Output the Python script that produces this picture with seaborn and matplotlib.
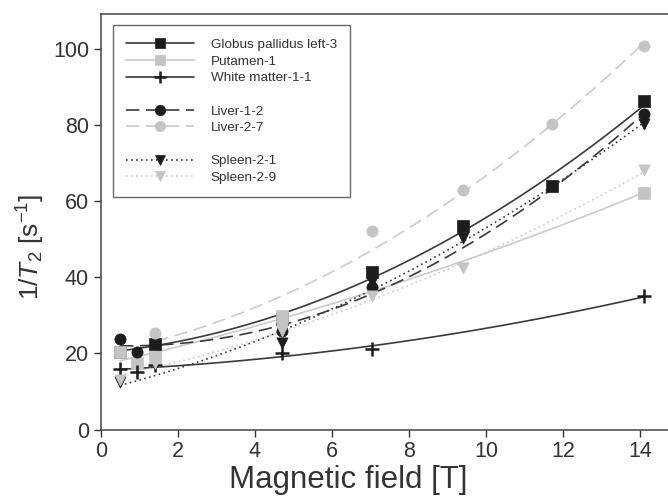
import numpy as np
import pandas as pd
import matplotlib
matplotlib.use('Agg')
import matplotlib.pyplot as plt
from matplotlib.lines import Line2D
import seaborn as sns

# field strengths [T] and 1/T2 [s^-1]
gp_field = [0.5, 1.41, 4.7, 7.05, 9.4, 11.7, 14.1]
gp_rate = [20.4, 22.6, 29.0, 41.5, 53.5, 64.0, 86.5]

put_field = [0.5, 0.95, 1.41, 4.7, 14.1]
put_rate = [20.4, 17.6, 19.0, 29.8, 62.3]

wm_field = [0.5, 0.95, 1.41, 4.7, 7.05, 14.1]
wm_rate = [16.0, 15.2, 16.9, 20.0, 21.3, 35.0]

liv1_field = [0.5, 0.95, 4.7, 7.05, 14.1]
liv1_rate = [23.9, 20.4, 25.8, 37.4, 83.0]

liv2_field = [1.41, 4.7, 7.05, 9.4, 11.7, 14.1]
liv2_rate = [25.5, 28.0, 52.2, 63.0, 80.3, 101.0]

spl1_field = [0.5, 4.7, 7.05, 9.4, 14.1]
spl1_rate = [12.5, 22.8, 38.8, 50.3, 80.3]

spl2_field = [0.5, 1.41, 4.7, 7.05, 9.4, 14.1]
spl2_rate = [13.0, 17.5, 26.0, 35.0, 42.4, 68.2]

DARK = '#1c1c1c'
DARK_LINE = '#3a3a3a'
LIGHT = '#c4c4c4'
LIGHT_LINE = '#cbcbcb'

series = [
    ('Globus pallidus left-3', gp_field, gp_rate, 's', DARK, DARK_LINE, '-'),
    ('Putamen-1', put_field, put_rate, 's', LIGHT, LIGHT_LINE, '-'),
    ('White matter-1-1', wm_field, wm_rate, '+', DARK, DARK_LINE, '-'),
    ('Liver-1-2', liv1_field, liv1_rate, 'o', DARK, DARK_LINE, (0, (8, 4))),
    ('Liver-2-7', liv2_field, liv2_rate, 'o', LIGHT, LIGHT_LINE, (0, (8, 4))),
    ('Spleen-2-1', spl1_field, spl1_rate, 'v', DARK, DARK_LINE, (0, (1, 2))),
    ('Spleen-2-9', spl2_field, spl2_rate, 'v', LIGHT, LIGHT_LINE, (0, (1, 2))),
]

sns.set_style('ticks')
plt.rcParams['font.family'] = ['Liberation Sans', 'DejaVu Sans']
plt.rcParams['mathtext.fontset'] = 'custom'
plt.rcParams['mathtext.rm'] = 'Liberation Sans'
plt.rcParams['mathtext.it'] = 'Liberation Sans:italic'

fig = plt.figure(figsize=(6.68, 5.0), dpi=100)
ax = fig.add_axes([0.151, 0.141, 0.849, 0.831])

# fitted curves first, markers on top
for name, xs, ys, mk, mc, lc, ls in series:
    df = pd.DataFrame({'field': xs, 'rate': ys})
    sns.regplot(data=df, x='field', y='rate', order=2, ci=None, scatter=False,
                truncate=True, ax=ax,
                line_kws={'color': lc, 'lw': 1.2, 'linestyle': ls})

for name, xs, ys, mk, mc, lc, ls in series:
    df = pd.DataFrame({'field': xs, 'rate': ys})
    if mk == '+':
        sns.scatterplot(data=df, x='field', y='rate', marker='+', s=90,
                        color=mc, linewidth=1.8, ax=ax, zorder=4)
    else:
        sns.scatterplot(data=df, x='field', y='rate', marker=mk, s=65,
                        color=mc, edgecolor=mc, linewidth=0.5, ax=ax, zorder=4)

ax.set_xlim(0, 14.72)
ax.set_ylim(0, 109.3)
ax.set_xticks(range(0, 15, 2))
ax.set_yticks(range(0, 101, 20))
ax.tick_params(axis='both', labelsize=15.5, length=5, width=1, colors='#333333',
               direction='out')
for side in ['left', 'bottom', 'top']:
    ax.spines[side].set_color('#444444')
    ax.spines[side].set_linewidth(1.1)
ax.spines['right'].set_visible(False)

ax.set_xlabel('Magnetic field [T]', fontsize=22.5, color='#333333')
ax.set_ylabel(r'1/$T_2$ [s$^{-1}$]', fontsize=19, color='#333333')
ax.xaxis.set_label_coords(0.436, -0.085)
ax.yaxis.set_label_coords(-0.095, 0.44)

# legend with gaps between tissue groups
handles = []
labels = []
blank = Line2D([], [], linestyle='none', marker='none')
for i, (name, xs, ys, mk, mc, lc, ls) in enumerate(series):
    if i == 3:
        handles.append(blank)
        labels.append('')
    if i == 5:
        handles.append(blank)
        labels.append('')
    ms = 9 if mk == '+' else 7.5
    mew = 1.8 if mk == '+' else 0.5
    handles.append(Line2D([], [], color=lc, linestyle=ls, lw=1.2, marker=mk,
                          markersize=ms, markerfacecolor=mc, markeredgecolor=mc,
                          markeredgewidth=mew))
    labels.append(name)

leg = ax.legend(handles, labels, loc='upper left', bbox_to_anchor=(0.021, 0.973),
                fontsize=9.7, handlelength=5.0, handletextpad=1.26,
                labelspacing=0.31, borderpad=1.0, borderaxespad=0,
                frameon=True, fancybox=False,
                edgecolor='#444444', labelcolor='#333333')
leg.get_frame().set_linewidth(1.0)

fig.savefig('out.png', dpi=100)
